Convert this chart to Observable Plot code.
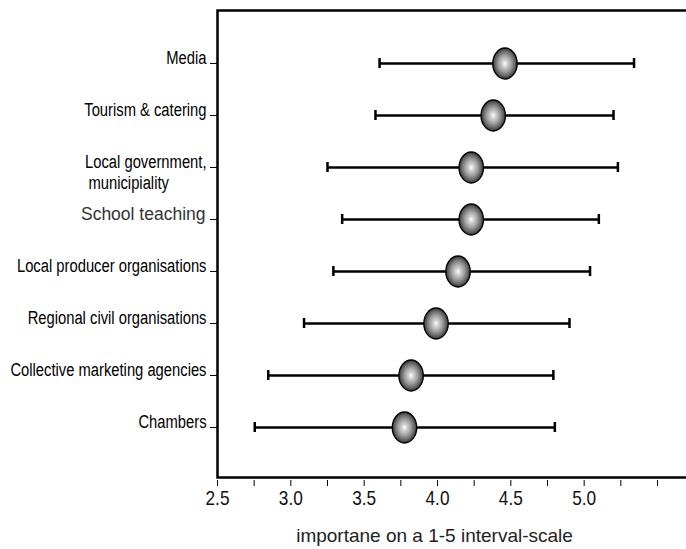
<!DOCTYPE html>
<html>
<head>
<meta charset="utf-8">
<script src="https://cdn.jsdelivr.net/npm/d3@7"></script>
<script src="https://cdn.jsdelivr.net/npm/@observablehq/plot@0.6"></script>
<style>
  html, body { margin: 0; padding: 0; background: #fff; overflow: hidden; }
  #wrap { width: 686px; height: 549px; overflow: hidden; }
  #wrap svg { overflow: visible; max-width: none !important; }
</style>
</head>
<body>
<svg width="0" height="0" style="position:absolute">
  <defs>
    <radialGradient id="ballGrad" cx="0.5" cy="0.5" r="0.5">
      <stop offset="0" stop-color="#ffffff"/>
      <stop offset="0.18" stop-color="#d8d8d8"/>
      <stop offset="0.55" stop-color="#9a9a9a"/>
      <stop offset="0.85" stop-color="#5a5a5a"/>
      <stop offset="1" stop-color="#303030"/>
    </radialGradient>
  </defs>
</svg>
<div id="wrap"></div>
<script>
// ---- data ----
const categories = ["Media", "Tourism & catering", "Local government", "School teaching",
  "Local producer organisations", "Regional civil organisations",
  "Collective marketing agencies", "Chambers"];
const labelLines = ["Media", "Tourism & catering", "Local government,", "School teaching",
  "Local producer organisations", "Regional civil organisations",
  "Collective marketing agencies", "Chambers"];
const subLabelCategory = ["Local government"];
const subLabelText = ["municipiality"];
const means = [4.46, 4.38, 4.23, 4.23, 4.14, 3.99, 3.82, 3.775];
const lows  = [3.605, 3.577, 3.25, 3.35, 3.29, 3.09, 2.846, 2.754];
const highs = [5.34, 5.20, 5.23, 5.10, 5.04, 4.90, 4.79, 4.80];
const xTickValues = [2.5, 2.75, 3.0, 3.25, 3.5, 3.75, 4.0, 4.25, 4.5, 4.75, 5.0, 5.25, 5.5];
const xTickLabels = [2.5, 3.0, 3.5, 4.0, 4.5, 5.0];
const xTitle = "importane on a 1-5 interval-scale";

const rows = categories.map((c, i) => ({cat: c, label: labelLines[i], mean: means[i], low: lows[i], high: highs[i]}));
const subRows = subLabelCategory.map((c, i) => ({cat: c, text: subLabelText[i]}));

// "NarrowX" is not installed: it marks the labels to be condensed below (Arial Narrow look)
const narrow = "NarrowX, 'Liberation Sans', Arial, sans-serif";

const ellipse = {
  draw(context, size) {
    const r = Math.sqrt(size / Math.PI);
    const rx = r * 0.79, ry = r, k = 0.5523;
    context.moveTo(0, -ry);
    context.bezierCurveTo(k * rx, -ry, rx, -k * ry, rx, 0);
    context.bezierCurveTo(rx, k * ry, k * rx, ry, 0, ry);
    context.bezierCurveTo(-k * rx, ry, -rx, k * ry, -rx, 0);
    context.bezierCurveTo(-rx, -k * ry, -k * rx, -ry, 0, -ry);
    context.closePath();
  }
};

const chart = Plot.plot({
  width: 702,
  height: 549,
  marginLeft: 217,
  marginRight: 1,
  marginTop: 10,
  marginBottom: 72,
  style: {background: "white", color: "black", fontFamily: "'Liberation Sans', Arial, sans-serif", maxWidth: "none", overflow: "visible"},
  x: {domain: [2.5, 5.8], label: null},
  y: {
    type: "band",
    domain: categories,
    paddingInner: 0.8,
    paddingOuter: 0.87,
    align: 0.515,
    label: null
  },
  marks: [
    Plot.frame({stroke: "black", strokeWidth: 2.5}),
    Plot.axisX({ticks: xTickValues, tickSize: 6, tickPadding: 4, fontSize: 21, fontFamily: narrow, fill: "#111", dy: 3,
      tickFormat: d => xTickLabels.some(v => Math.abs(v - d) < 1e-9) ? d.toFixed(1) : "", label: null}),
    Plot.axisY({tickSize: 7, tickFormat: () => "", label: null}),
    Plot.ruleY(rows, {y: "cat", x1: "low", x2: "high", stroke: "black", strokeWidth: 2.6}),
    Plot.tickX(rows, {x: "low", y: "cat", stroke: "black", strokeWidth: 2.5}),
    Plot.tickX(rows, {x: "high", y: "cat", stroke: "black", strokeWidth: 2.5}),
    Plot.dot(rows, {x: "mean", y: "cat", r: 15.5, symbol: ellipse, fill: "url(#ballGrad)", stroke: "black", strokeWidth: 1.3}),
    Plot.text(rows, {filter: d => d.cat !== "School teaching", y: "cat", text: "label",
      frameAnchor: "left", dx: -11, dy: -5, textAnchor: "end",
      fontFamily: narrow, fontSize: 18, fill: "black"}),
    Plot.text(rows, {filter: d => d.cat === "School teaching", y: "cat", text: "label",
      frameAnchor: "left", dx: -12, dy: -5, textAnchor: "end",
      fontFamily: "'Liberation Sans', Arial, sans-serif", fontSize: 17.5, fill: "#333"}),
    Plot.text(subRows, {y: "cat", text: "text", frameAnchor: "left", dx: -129, dy: 16,
      textAnchor: "start", fontFamily: narrow, fontSize: 18, fill: "black"}),
    Plot.text([xTitle], {text: d => d, frameAnchor: "bottom", dx: -25, dy: 64,
      fontFamily: "'Liberation Sans', Arial, sans-serif", fontSize: 19, fill: "#222"})
  ]
});
document.getElementById("wrap").appendChild(chart);

// condense narrow-style labels (emulating Arial Narrow)
function condense(textEl, factor) {
  const w = textEl.getComputedTextLength();
  if (w > 0) {
    textEl.setAttribute("textLength", (w * factor).toFixed(2));
    textEl.setAttribute("lengthAdjust", "spacingAndGlyphs");
  }
}
chart.querySelectorAll("g[font-family^='NarrowX'] text").forEach(t => condense(t, 0.82));
</script>
</body>
</html>
